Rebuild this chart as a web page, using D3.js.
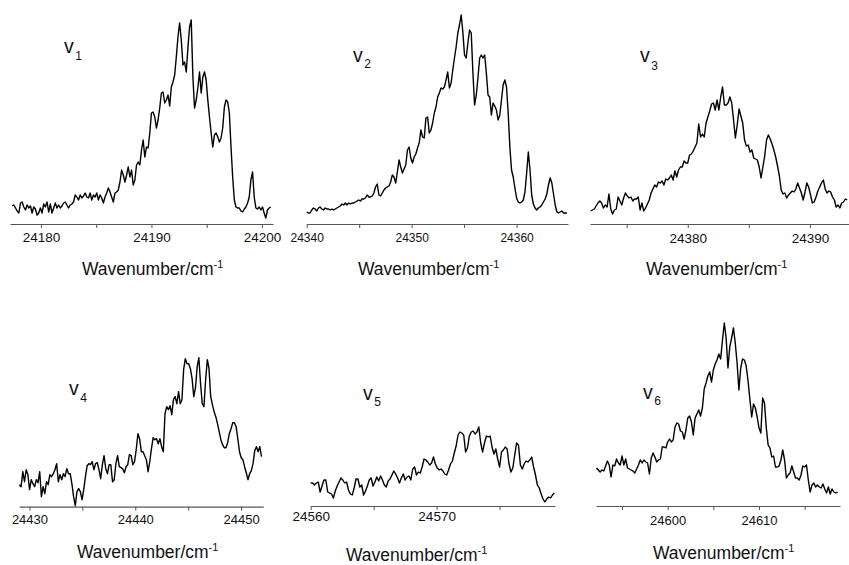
<!DOCTYPE html>
<html><head><meta charset="utf-8">
<script src="https://cdn.jsdelivr.net/npm/d3@7"></script>
<style>
body{margin:0;background:#fff}
svg{display:block}
text{font-family:"Liberation Sans",Arial,Helvetica,sans-serif;fill:#111}
</style>
</head><body>
<svg id="chart" width="849" height="565"></svg>
<script>
// ---------- data (wavenumber / cm-1, intensity in arbitrary units) ----------
const wn1 = [24177.40,24177.55,24177.70,24177.85,24178.00,24178.15,24178.30,24178.45,24178.60,24178.75,
24178.90,24179.05,24179.20,24179.35,24179.50,24179.65,24179.80,24179.95,24180.10,24180.25,
24180.40,24180.55,24180.70,24180.85,24181.00,24181.15,24181.30,24181.45,24181.60,24181.75,
24181.90,24182.05,24182.20,24182.35,24182.50,24182.65,24182.80,24182.95,24183.10,24183.25,
24183.40,24183.55,24183.70,24183.85,24184.00,24184.15,24184.30,24184.45,24184.60,24184.75,
24184.90,24185.05,24185.20,24185.35,24185.50,24185.65,24185.80,24185.95,24186.10,24186.25,
24186.40,24186.55,24186.70,24186.85,24187.00,24187.15,24187.30,24187.45,24187.60,24187.75,
24187.90,24188.05,24188.20,24188.35,24188.50,24188.65,24188.80,24188.95,24189.10,24189.25,
24189.40,24189.55,24189.70,24189.85,24190.00,24190.15,24190.30,24190.45,24190.60,24190.75,
24190.90,24191.05,24191.20,24191.35,24191.50,24191.65,24191.80,24191.95,24192.10,24192.25,
24192.40,24192.55,24192.70,24192.85,24193.00,24193.15,24193.30,24193.45,24193.60,24193.75,
24193.90,24194.05,24194.20,24194.35,24194.50,24194.65,24194.80,24194.95,24195.10,24195.25,
24195.40,24195.55,24195.70,24195.85,24196.00,24196.15,24196.30,24196.45,24196.60,24196.75,
24196.90,24197.05,24197.20,24197.35,24197.50,24197.65,24197.80,24197.95,24198.10,24198.25,
24198.40,24198.55,24198.70,24198.85,24199.00,24199.15,24199.30,24199.45,24199.60,24199.75,
24199.90,24200.05,24200.20,24200.35,24200.50,24200.65,24200.80];
const int1 = [18,19,16,13,11,21,22,17,14,19,
16,18,11,17,15,9,11,16,11,20,
17,22,12,20,11,16,21,16,19,16,
18,21,22,19,16,19,20,22,29,27,
24,29,26,28,31,27,26,31,24,29,
27,31,24,29,26,21,27,31,36,32,
27,22,31,32,34,42,54,49,42,49,
57,47,54,39,44,59,62,59,74,84,
67,77,76,91,111,112,107,96,104,116,
131,132,121,124,129,118,137,142,149,167,
187,201,184,159,162,152,176,197,204,147,
116,124,136,152,131,147,152,144,124,107,
91,77,89,91,87,82,86,96,117,124,
122,111,77,47,24,17,16,16,13,12,
15,17,21,27,44,52,27,16,15,17,
14,17,11,6,14,16,17];

const wn2 = [24340.00,24340.16,24340.32,24340.48,24340.64,24340.80,24340.96,24341.12,24341.28,24341.44,
24341.60,24341.76,24341.92,24342.08,24342.24,24342.40,24342.56,24342.72,24342.88,24343.04,
24343.20,24343.36,24343.52,24343.68,24343.84,24344.00,24344.16,24344.32,24344.48,24344.64,
24344.80,24344.96,24345.12,24345.28,24345.44,24345.60,24345.76,24345.92,24346.08,24346.24,
24346.40,24346.56,24346.72,24346.88,24347.04,24347.20,24347.36,24347.52,24347.68,24347.84,
24348.00,24348.16,24348.32,24348.48,24348.64,24348.80,24348.96,24349.12,24349.28,24349.44,
24349.60,24349.76,24349.92,24350.08,24350.24,24350.40,24350.56,24350.72,24350.88,24351.04,
24351.20,24351.36,24351.52,24351.68,24351.84,24352.00,24352.16,24352.32,24352.48,24352.64,
24352.80,24352.96,24353.12,24353.28,24353.44,24353.60,24353.76,24353.92,24354.08,24354.24,
24354.40,24354.56,24354.72,24354.88,24355.04,24355.20,24355.36,24355.52,24355.68,24355.84,
24356.00,24356.16,24356.32,24356.48,24356.64,24356.80,24356.96,24357.12,24357.28,24357.44,
24357.60,24357.76,24357.92,24358.08,24358.24,24358.40,24358.56,24358.72,24358.88,24359.04,
24359.20,24359.36,24359.52,24359.68,24359.84,24360.00,24360.16,24360.32,24360.48,24360.64,
24360.80,24360.96,24361.12,24361.28,24361.44,24361.60,24361.76,24361.92,24362.08,24362.24,
24362.40,24362.56,24362.72,24362.88,24363.04,24363.20,24363.36,24363.52,24363.68,24363.84,
24364.00,24364.16,24364.32,24364.48,24364.64,24364.80];
const int2 = [12,11,11,14,16,15,13,16,17,15,
14,16,15,15,14,15,14,15,16,17,
18,20,19,21,19,21,20,21,21,22,
23,24,23,25,25,26,29,27,27,28,
31,37,40,29,28,31,34,36,37,38,
42,49,47,41,52,64,57,51,55,59,
74,77,66,61,67,70,76,81,94,87,
86,106,107,91,94,101,111,117,127,131,
136,135,137,144,152,136,141,154,166,177,
191,199,209,192,169,166,181,194,191,151,
119,129,146,166,169,166,169,151,129,127,
109,121,118,114,104,109,124,139,144,137,
111,77,54,47,36,26,22,21,22,24,
32,51,72,54,29,20,16,14,16,17,
19,22,25,30,39,46,41,30,19,12,
11,12,13,11,11,11];

const wn3 = [24372.05,24372.20,24372.35,24372.50,24372.65,24372.80,24372.95,24373.10,24373.25,24373.40,
24373.55,24373.70,24373.85,24374.00,24374.15,24374.30,24374.45,24374.60,24374.75,24374.90,
24375.05,24375.20,24375.35,24375.50,24375.65,24375.80,24375.95,24376.10,24376.25,24376.40,
24376.55,24376.70,24376.85,24377.00,24377.15,24377.30,24377.45,24377.60,24377.75,24377.90,
24378.05,24378.20,24378.35,24378.50,24378.65,24378.80,24378.95,24379.10,24379.25,24379.40,
24379.55,24379.70,24379.85,24380.00,24380.15,24380.30,24380.45,24380.60,24380.75,24380.90,
24381.05,24381.20,24381.35,24381.50,24381.65,24381.80,24381.95,24382.10,24382.25,24382.40,
24382.55,24382.70,24382.85,24383.00,24383.15,24383.30,24383.45,24383.60,24383.75,24383.90,
24384.05,24384.20,24384.35,24384.50,24384.65,24384.80,24384.95,24385.10,24385.25,24385.40,
24385.55,24385.70,24385.85,24386.00,24386.15,24386.30,24386.45,24386.60,24386.75,24386.90,
24387.05,24387.20,24387.35,24387.50,24387.65,24387.80,24387.95,24388.10,24388.25,24388.40,
24388.55,24388.70,24388.85,24389.00,24389.15,24389.30,24389.45,24389.60,24389.75,24389.90,
24390.05,24390.20,24390.35,24390.50,24390.65,24390.80,24390.95,24391.10,24391.25,24391.40,
24391.55,24391.70,24391.85,24392.00,24392.15,24392.30,24392.45,24392.60,24392.75,24392.90,
24393.05];
const int3 = [13,14,15,18,21,23,21,16,19,17,
30,15,10,14,15,27,23,19,26,31,
28,26,27,23,25,25,27,14,21,13,
16,20,24,31,35,39,37,42,41,43,
39,45,44,46,49,44,53,47,54,57,
57,63,61,61,69,70,73,77,81,100,
87,90,87,101,107,113,120,121,114,124,
114,127,137,119,119,121,127,121,104,86,
99,115,108,101,84,78,79,72,74,66,
65,64,57,46,57,68,84,89,85,80,
74,67,58,48,34,30,31,26,29,31,
33,32,35,41,36,31,24,32,41,37,
29,21,22,27,33,37,41,44,35,31,
33,32,27,24,17,19,16,21,22,25,
24];

const wn4 = [24429.05,24429.21,24429.37,24429.53,24429.69,24429.85,24430.01,24430.17,24430.33,24430.49,
24430.65,24430.81,24430.97,24431.13,24431.29,24431.45,24431.61,24431.77,24431.93,24432.09,
24432.25,24432.41,24432.57,24432.73,24432.89,24433.05,24433.21,24433.37,24433.53,24433.69,
24433.85,24434.01,24434.17,24434.33,24434.49,24434.65,24434.81,24434.97,24435.13,24435.29,
24435.45,24435.61,24435.77,24435.93,24436.09,24436.25,24436.41,24436.57,24436.73,24436.89,
24437.05,24437.21,24437.37,24437.53,24437.69,24437.85,24438.01,24438.17,24438.33,24438.49,
24438.65,24438.81,24438.97,24439.13,24439.29,24439.45,24439.61,24439.77,24439.93,24440.09,
24440.25,24440.41,24440.57,24440.73,24440.89,24441.05,24441.21,24441.37,24441.53,24441.69,
24441.85,24442.01,24442.17,24442.33,24442.49,24442.65,24442.81,24442.97,24443.13,24443.29,
24443.45,24443.61,24443.77,24443.93,24444.09,24444.25,24444.41,24444.57,24444.73,24444.89,
24445.05,24445.21,24445.37,24445.53,24445.69,24445.85,24446.01,24446.17,24446.33,24446.49,
24446.65,24446.81,24446.97,24447.13,24447.29,24447.45,24447.61,24447.77,24447.93,24448.09,
24448.25,24448.41,24448.57,24448.73,24448.89,24449.05,24449.21,24449.37,24449.53,24449.69,
24449.85,24450.01,24450.17,24450.33,24450.49,24450.65,24450.81,24450.97,24451.13,24451.29,
24451.45,24451.61,24451.77,24451.93];
const int4 = [22,20,35,25,37,32,17,27,23,20,
27,24,35,10,20,13,25,22,32,30,
33,37,43,25,32,27,33,30,38,33,
33,23,10,1,15,18,15,7,17,30,
41,43,42,45,37,43,44,37,28,42,
51,38,33,42,42,25,27,43,51,40,
39,38,34,40,42,52,51,42,45,57,
73,68,55,55,51,47,35,45,58,69,
67,68,63,68,60,55,93,100,97,101,
92,107,110,103,115,103,107,137,148,143,
143,138,128,110,119,140,149,123,103,100,
127,147,138,110,102,95,90,83,75,67,
62,59,59,64,73,78,84,84,80,68,
55,49,47,40,34,27,33,36,43,56,
60,55,60,50];

const wn5 = [24560.00,24560.15,24560.30,24560.45,24560.60,24560.75,24560.90,24561.05,24561.20,24561.35,
24561.50,24561.65,24561.80,24561.95,24562.10,24562.25,24562.40,24562.55,24562.70,24562.85,
24563.00,24563.15,24563.30,24563.45,24563.60,24563.75,24563.90,24564.05,24564.20,24564.35,
24564.50,24564.65,24564.80,24564.95,24565.10,24565.25,24565.40,24565.55,24565.70,24565.85,
24566.00,24566.15,24566.30,24566.45,24566.60,24566.75,24566.90,24567.05,24567.20,24567.35,
24567.50,24567.65,24567.80,24567.95,24568.10,24568.25,24568.40,24568.55,24568.70,24568.85,
24569.00,24569.15,24569.30,24569.45,24569.60,24569.75,24569.90,24570.05,24570.20,24570.35,
24570.50,24570.65,24570.80,24570.95,24571.10,24571.25,24571.40,24571.55,24571.70,24571.85,
24572.00,24572.15,24572.30,24572.45,24572.60,24572.75,24572.90,24573.05,24573.20,24573.35,
24573.50,24573.65,24573.80,24573.95,24574.10,24574.25,24574.40,24574.55,24574.70,24574.85,
24575.00,24575.15,24575.30,24575.45,24575.60,24575.75,24575.90,24576.05,24576.20,24576.35,
24576.50,24576.65,24576.80,24576.95,24577.10,24577.25,24577.40,24577.55,24577.70,24577.85,
24578.00,24578.15,24578.30,24578.45,24578.60,24578.75,24578.90,24579.05,24579.20,24579.35];
const int5 = [23,23,21,23,24,14,20,26,26,14,
13,12,8,15,20,24,28,26,23,24,
16,12,11,18,27,27,19,21,11,15,
20,26,28,20,24,29,25,30,26,21,
19,25,27,31,35,32,28,23,28,32,
26,29,30,26,37,39,31,34,33,39,
47,46,44,41,43,49,42,38,36,37,
35,32,31,36,42,45,53,60,71,74,
73,71,54,58,70,74,75,72,74,79,
63,54,63,70,69,70,59,52,57,47,
39,54,56,59,57,42,34,38,51,63,
61,41,37,42,45,44,46,49,39,31,
21,18,12,7,4,7,9,8,11,13];

const wn6 = [24592.2,24592.4,24592.6,24592.8,24593.0,24593.2,24593.4,24593.6,24593.8,24594.0,
24594.2,24594.4,24594.6,24594.8,24595.0,24595.2,24595.4,24595.6,24595.8,24596.0,
24596.2,24596.4,24596.6,24596.8,24597.0,24597.2,24597.4,24597.6,24597.8,24598.0,
24598.2,24598.4,24598.6,24598.8,24599.0,24599.2,24599.4,24599.6,24599.8,24600.0,
24600.2,24600.4,24600.6,24600.8,24601.0,24601.2,24601.4,24601.6,24601.8,24602.0,
24602.2,24602.4,24602.6,24602.8,24603.0,24603.2,24603.4,24603.6,24603.8,24604.0,
24604.2,24604.4,24604.6,24604.8,24605.0,24605.2,24605.4,24605.6,24605.8,24606.0,
24606.2,24606.4,24606.6,24606.8,24607.0,24607.2,24607.4,24607.6,24607.8,24608.0,
24608.2,24608.4,24608.6,24608.8,24609.0,24609.2,24609.4,24609.6,24609.8,24610.0,
24610.2,24610.4,24610.6,24610.8,24611.0,24611.2,24611.4,24611.6,24611.8,24612.0,
24612.2,24612.4,24612.6,24612.8,24613.0,24613.2,24613.4,24613.6,24613.8,24614.0,
24614.2,24614.4,24614.6,24614.8,24615.0,24615.2,24615.4,24615.6,24615.8,24616.0,
24616.2,24616.4,24616.6,24616.8,24617.0,24617.2,24617.4,24617.6,24617.8,24618.0,
24618.2,24618.4,24618.6];
const int6 = [38,36,34,36,35,40,45,41,29,41,
40,47,43,41,50,41,47,38,37,36,
35,33,37,41,46,43,46,44,43,32,
48,53,49,44,46,47,59,59,58,64,
67,64,66,79,83,82,75,74,67,76,
88,90,84,71,88,92,96,90,98,117,
123,130,134,124,136,142,146,152,147,166,
183,168,138,159,168,178,163,143,116,138,
147,146,140,125,107,89,102,98,89,78,
73,108,103,78,61,58,49,50,39,39,
40,46,56,46,28,31,33,40,34,28,
28,26,31,40,39,41,26,14,21,23,
19,21,19,18,22,17,13,19,12,17,
14,13,14];

const bandSubscripts = ["1","2","3","4","5","6"];
const majorTicks = [[24180,24190,24200],[24340,24350,24360],[24380,24390],
                    [24430,24440,24450],[24560,24570],[24600,24610]];
const minorTicks = [[24185,24195],[24345,24355],[24375,24385],
                    [24435,24445],[24565,24575],[24595,24605,24615]];
const axisDomains = [[24177.2,24201.0],[24340.0,24364.9],[24372.0,24393.2],
                     [24429.04,24452.1],[24560.0,24579.4],[24592.15,24618.87]];
const axisTitleMain = "Wavenumber/cm";
const axisTitleSup = "-1";

// ---------- layout (positions only) ----------
const layout = [
  {x0:10,   x1:273,   y:224,   tickFont:13.5, tickY:18, title:[82,275],  lab:[64,53],   subDy:7},
  {x0:306.7,x1:568,   y:224,   tickFont:12,   tickY:18, title:[358,275], lab:[353,62],  subDy:6},
  {x0:590,  x1:849,   y:224,   tickFont:13.5, tickY:19, title:[646,275], lab:[640,62],  subDy:8},
  {x0:19.3, x1:263.3, y:506.7, tickFont:13,   tickY:17, title:[77,558],  lab:[69,395],  subDy:7},
  {x0:310.7,x1:555,   y:506,   tickFont:13.5, tickY:15, title:[346,560.5], lab:[363,400], subDy:6},
  {x0:596,  x1:840,   y:506,   tickFont:13,   tickY:19, title:[653,558.5], lab:[643,399], subDy:6}
];

const series = [[wn1,int1],[wn2,int2],[wn3,int3],[wn4,int4],[wn5,int5],[wn6,int6]];

const svg = d3.select("#chart");

series.forEach(([xs, ys], i) => {
  const L = layout[i];
  const x = d3.scaleLinear().domain(axisDomains[i]).range([L.x0, L.x1]);
  const y = d3.scaleLinear().domain([0, 100]).range([L.y, L.y - 100]);
  const g = svg.append("g");

  // spectrum
  const pts = xs.map((v, k) => [v, ys[k]]);
  g.append("path")
    .datum(pts)
    .attr("fill", "none")
    .attr("stroke", "#000")
    .attr("stroke-width", 1.4)
    .attr("stroke-linejoin", "round")
    .attr("d", d3.line().x(d => x(d[0])).y(d => y(d[1])));

  // bottom axis
  const majors = majorTicks[i];
  const allTicks = majors.concat(minorTicks[i]).sort((a, b) => a - b);
  const axis = d3.axisBottom(x)
    .tickValues(allTicks)
    .tickSize(4)
    .tickSizeOuter(0)
    .tickFormat(d => majors.includes(d) ? String(d) : "");
  const ag = g.append("g").attr("transform", `translate(0,${L.y})`).call(axis);
  ag.select(".domain").attr("stroke", "#555").attr("stroke-width", 1.2);
  ag.selectAll(".tick line").attr("stroke", "#555").attr("stroke-width", 1);
  ag.selectAll(".tick text")
    .attr("y", L.tickY)
    .attr("dy", 0)
    .attr("fill", "#111")
    .style("font-family", '"Liberation Sans", Arial, sans-serif')
    .style("font-size", L.tickFont + "px");

  // axis title
  const t = g.append("text")
    .attr("x", L.title[0]).attr("y", L.title[1])
    .style("font-size", "17.5px");
  t.append("tspan").text(axisTitleMain);
  t.append("tspan").attr("dy", -7).style("font-size", "11px").text(axisTitleSup);

  // band label  v_n
  const lb = g.append("text")
    .attr("x", L.lab[0]).attr("y", L.lab[1])
    .style("font-size", "19.5px");
  lb.append("tspan").text("v");
  lb.append("tspan").attr("dx", 1.5).attr("dy", L.subDy).style("font-size", "12px").text(bandSubscripts[i]);
});
</script>
</body></html>
